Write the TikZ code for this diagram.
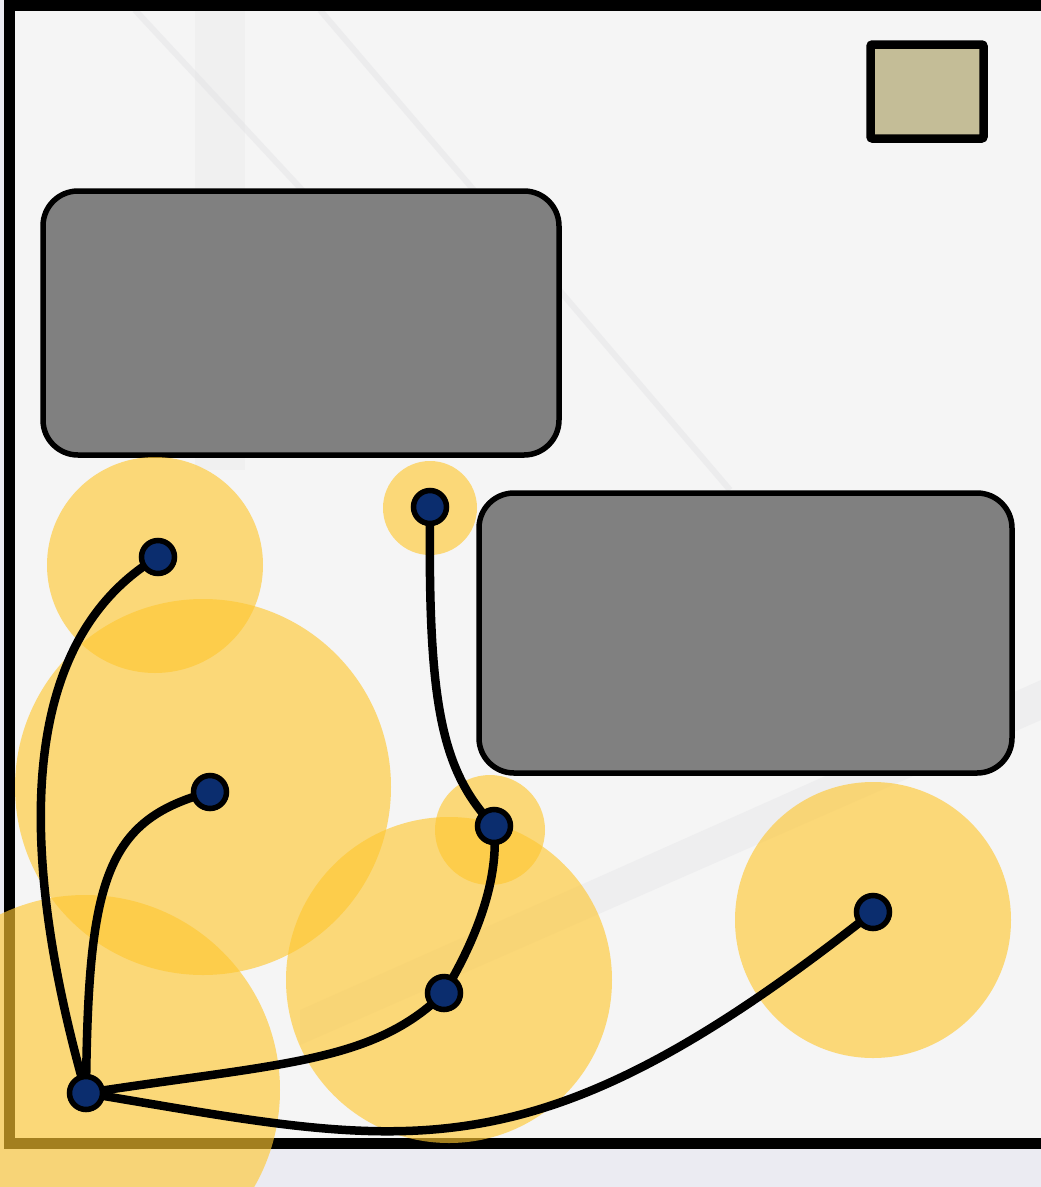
\documentclass[tikz,border=0pt]{standalone}
\usetikzlibrary{positioning}
\definecolor{outbg}{HTML}{EBEBF2}
\definecolor{inbg}{HTML}{F5F5F5}
\definecolor{photo}{HTML}{E2E2E4}
\definecolor{boxgray}{HTML}{808080}
\definecolor{tan}{HTML}{C4BD97}
\definecolor{navy}{HTML}{0B2D6E}
\definecolor{glow}{HTML}{FFC832}
\tikzset{
  graybox/.style={draw=black, fill=boxgray, line width=5.5pt, rounded corners=35pt, inner sep=0pt},
  tanbox/.style={draw=black, fill=tan, line width=8.5pt, rounded corners=2pt, inner sep=0pt, minimum width=113pt, minimum height=94pt},
  halo/.style={fill=glow, fill opacity=0.64},
  dot/.style={circle, draw=black, fill=navy, line width=5.5pt, minimum size=33pt, inner sep=0pt},
  link/.style={draw=black, line width=8.5pt, line cap=round},
  framestyle/.style={draw=black, line width=11pt},
  faint/.style={draw=photo, line width=6pt, opacity=0.45}
}
\begin{document}
\begin{tikzpicture}[x=1pt,y=-1pt]
\useasboundingbox (0,0) rectangle (1041,1187);
% background
\fill[outbg] (0,0) rectangle (1041,1187);
\fill[inbg] (9,5) rectangle (1041,1143);
% faint photo hints
\draw[faint] (135,10) -- (330,220);
\draw[faint] (320,10) -- (730,490);
\fill[photo, opacity=0.25] (195,10) rectangle (245,470);
\fill[photo, opacity=0.35] (300,1010) -- (1041,680) -- (1041,720) -- (300,1045) -- cycle;
% frame
\draw[framestyle] (1041,5) -- (9,5) -- (9,1143) -- (1041,1143);
% boxes
\node[graybox, minimum width=516pt, minimum height=264pt] (r1) at (301,323) {};
\node[graybox, minimum width=533pt, minimum height=280pt] (r2) at (745.5,633) {};
\node[tanbox] (sq) at (927,91.5) {};
% halos
\fill[halo] (155,565) circle (108);
\fill[halo] (203,787) circle (188);
\fill[halo] (430,508) circle (47);
\fill[halo] (490,830) circle (55);
\fill[halo] (449,980) circle (163);
\fill[halo] (873,920) circle (138);
\fill[halo] (85,1090) circle (195);
% node positions
\coordinate (A) at (158,557);
\coordinate (B) at (430,507);
\coordinate (C) at (210,792);
\coordinate (D) at (494,826);
\coordinate (E) at (444,993);
\coordinate (F) at (873,912);
\coordinate (G) at (86,1093);
% links
\draw[link] (G) .. controls (28,890) and (2,650) .. (A);
\draw[link] (G) .. controls (88,880) and (105,820) .. (C);
\draw[link] (G) .. controls (282,1063) and (373,1063) .. (E);
\draw[link] (G) .. controls (407,1146) and (527,1186) .. (F);
\draw[link] (B) .. controls (428,700) and (440,770) .. (D);
\draw[link] (D) .. controls (500,885) and (471,948) .. (E);
% dots
\node[dot] (nA) at (A) {};
\node[dot] (nB) at (B) {};
\node[dot] (nC) at (C) {};
\node[dot] (nD) at (D) {};
\node[dot] (nE) at (E) {};
\node[dot] (nF) at (F) {};
\node[dot] (nG) at (G) {};
\end{tikzpicture}
\end{document}
